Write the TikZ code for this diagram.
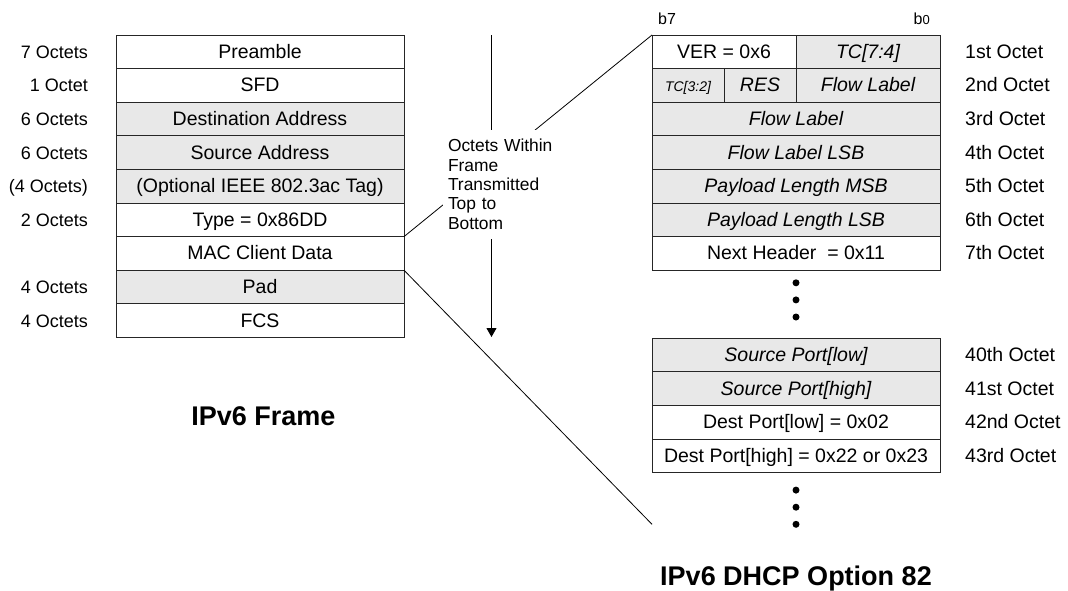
\documentclass[tikz,border=0pt]{standalone}
\usepackage{fontspec}
\setmainfont{Liberation Sans}
\usepackage{tikz}
\usetikzlibrary{positioning,calc,arrows.meta}
\newcommand{\fsz}[1]{\fontsize{#1}{#1}\selectfont}
\tikzset{
	cell/.style={draw=black!85, line width=0.9pt, outer sep=0pt, inner sep=0pt, minimum height=33.6pt, text height=16pt, text depth=3pt, font=\fsz{19.5}},
	full/.style={cell, minimum width=288pt},
	half/.style={cell, minimum width=144pt},
	quart/.style={cell, minimum width=72pt},
	grey/.style={fill=black!9},
	lbl/.style={inner sep=0pt, text height=16pt, text depth=3pt, font=\fsz{18}},
	rlbl/.style={inner sep=0pt, text height=16pt, text depth=3pt, font=\fsz{19.5}},
	bit/.style={inner sep=0pt, font=\fsz{16}},
	dot/.style={circle, fill=black, inner sep=0pt, minimum size=7pt},
	title/.style={inner sep=0pt, font=\fsz{27}\bfseries},
	note/.style={fill=white, inner sep=0pt, minimum width=122pt, minimum height=109pt, text width=112pt, align=left, font=\fontsize{17.4}{19.3}\selectfont},
	link/.style={line width=0.8pt, black},
}
\begin{document}
\begin{tikzpicture}[x=1pt, y=-1pt]
	\useasboundingbox (0,0) rectangle (1068,590);

	\node[full] (pre) at (260,51.8) {Preamble};
	\node[full, below=0pt of pre] (sfd) {SFD};
	\node[full, grey, below=0pt of sfd] (dst) {Destination Address};
	\node[full, grey, below=0pt of dst] (src) {Source Address};
	\node[full, grey, below=0pt of src] (tag) {(Optional IEEE 802.3ac Tag)};
	\node[full, below=0pt of tag] (type) {Type = 0x86DD};
	\node[full, below=0pt of type] (mac) {MAC Client Data};
	\node[full, grey, below=0pt of mac] (pad) {Pad};
	\node[full, below=0pt of pad] (fcs) {FCS};

	\node[lbl, left=28pt of pre] {7 Octets};
	\node[lbl, left=28pt of sfd] {1 Octet};
	\node[lbl, left=28pt of dst] {6 Octets};
	\node[lbl, left=28pt of src] {6 Octets};
	\node[lbl, left=28pt of tag] {(4 Octets)};
	\node[lbl, left=28pt of type] {2 Octets};
	\node[lbl, left=28pt of pad] {4 Octets};
	\node[lbl, left=28pt of fcs] {4 Octets};

	\node[title] (frametitle) at ($(fcs)+(3.5,96)$) {IPv6 Frame};

	\node[half] (ver) at (724,51.8) {VER = 0x6};
	\node[half, grey, right=0pt of ver] (tc74) {\itshape TC[7:4]};
	\node[quart, grey, below right=0pt of ver.south west, font=\fsz{14}\itshape] (tc32) {TC[3:2]};
	\node[quart, grey, right=0pt of tc32] (res) {\itshape RES};
	\node[half, grey, right=0pt of res] (flow) {\itshape Flow Label};
	\node[full, grey, below right=0pt of tc32.south west] (fl3) {\itshape Flow Label};
	\node[full, grey, below=0pt of fl3] (fl4) {\itshape Flow Label LSB};
	\node[full, grey, below=0pt of fl4] (plmsb) {\itshape Payload Length MSB};
	\node[full, grey, below=0pt of plmsb] (pllsb) {\itshape Payload Length LSB};
	\node[full, below=0pt of pllsb] (nh) {Next Header~ = 0x11};

	\node[bit, anchor=south west] (b7) at ($(ver.north west)+(6,-10)$) {b7};
	\node[bit, anchor=south east] (b0) at ($(tc74.north east)+(-10,-10)$) {b{\fsz{13}0}};

	\node[rlbl, right=25pt of tc74] {1st Octet};
	\node[rlbl, right=25pt of flow] {2nd Octet};
	\node[rlbl, right=25pt of fl3] {3rd Octet};
	\node[rlbl, right=25pt of fl4] {4th Octet};
	\node[rlbl, right=25pt of plmsb] {5th Octet};
	\node[rlbl, right=25pt of pllsb] {6th Octet};
	\node[rlbl, right=25pt of nh] {7th Octet};

	\node[dot] (d1) at ($(nh.south)+(0,12.6)$) {};
	\node[dot, below=9.7pt of d1] (d2) {};
	\node[dot, below=9.7pt of d2] (d3) {};

	\node[full, grey, below=17.5pt of d3] (splow) {\itshape Source Port[low]};
	\node[full, grey, below=0pt of splow] (sphigh) {\itshape Source Port[high]};
	\node[full, below=0pt of sphigh] (dplow) {Dest Port[low] = 0x02};
	\node[full, below=0pt of dplow] (dphigh) {Dest Port[high] = 0x22 or 0x23};

	\node[rlbl, right=25pt of splow] {40th Octet};
	\node[rlbl, right=25pt of sphigh] {41st Octet};
	\node[rlbl, right=25pt of dplow] {42nd Octet};
	\node[rlbl, right=25pt of dphigh] {43rd Octet};

	\node[dot, below=13.8pt of dphigh] (d4) {};
	\node[dot, below=9.7pt of d4] (d5) {};
	\node[dot, below=9.7pt of d5] (d6) {};

	\node[title] (opttitle) at ($(d6)+(0,54)$) {IPv6 DHCP Option 82};

	\coordinate (tail) at (splow.west |- d6);
	\coordinate (flowtop) at (491.5,35);
	\coordinate (flowbot) at (491.5,337);

	\draw[link] (type.south east) -- (ver.north west);
	\draw[link] (pad.north east) -- (tail);
	\draw[line width=1pt, -{Triangle[width=10pt,length=9pt]}] (flowtop) -- (flowbot);

	\node[note] (dir) at (504,184.2) {Octets Within\\Frame\\Transmitted\\Top to\\Bottom};
\end{tikzpicture}
\end{document}
